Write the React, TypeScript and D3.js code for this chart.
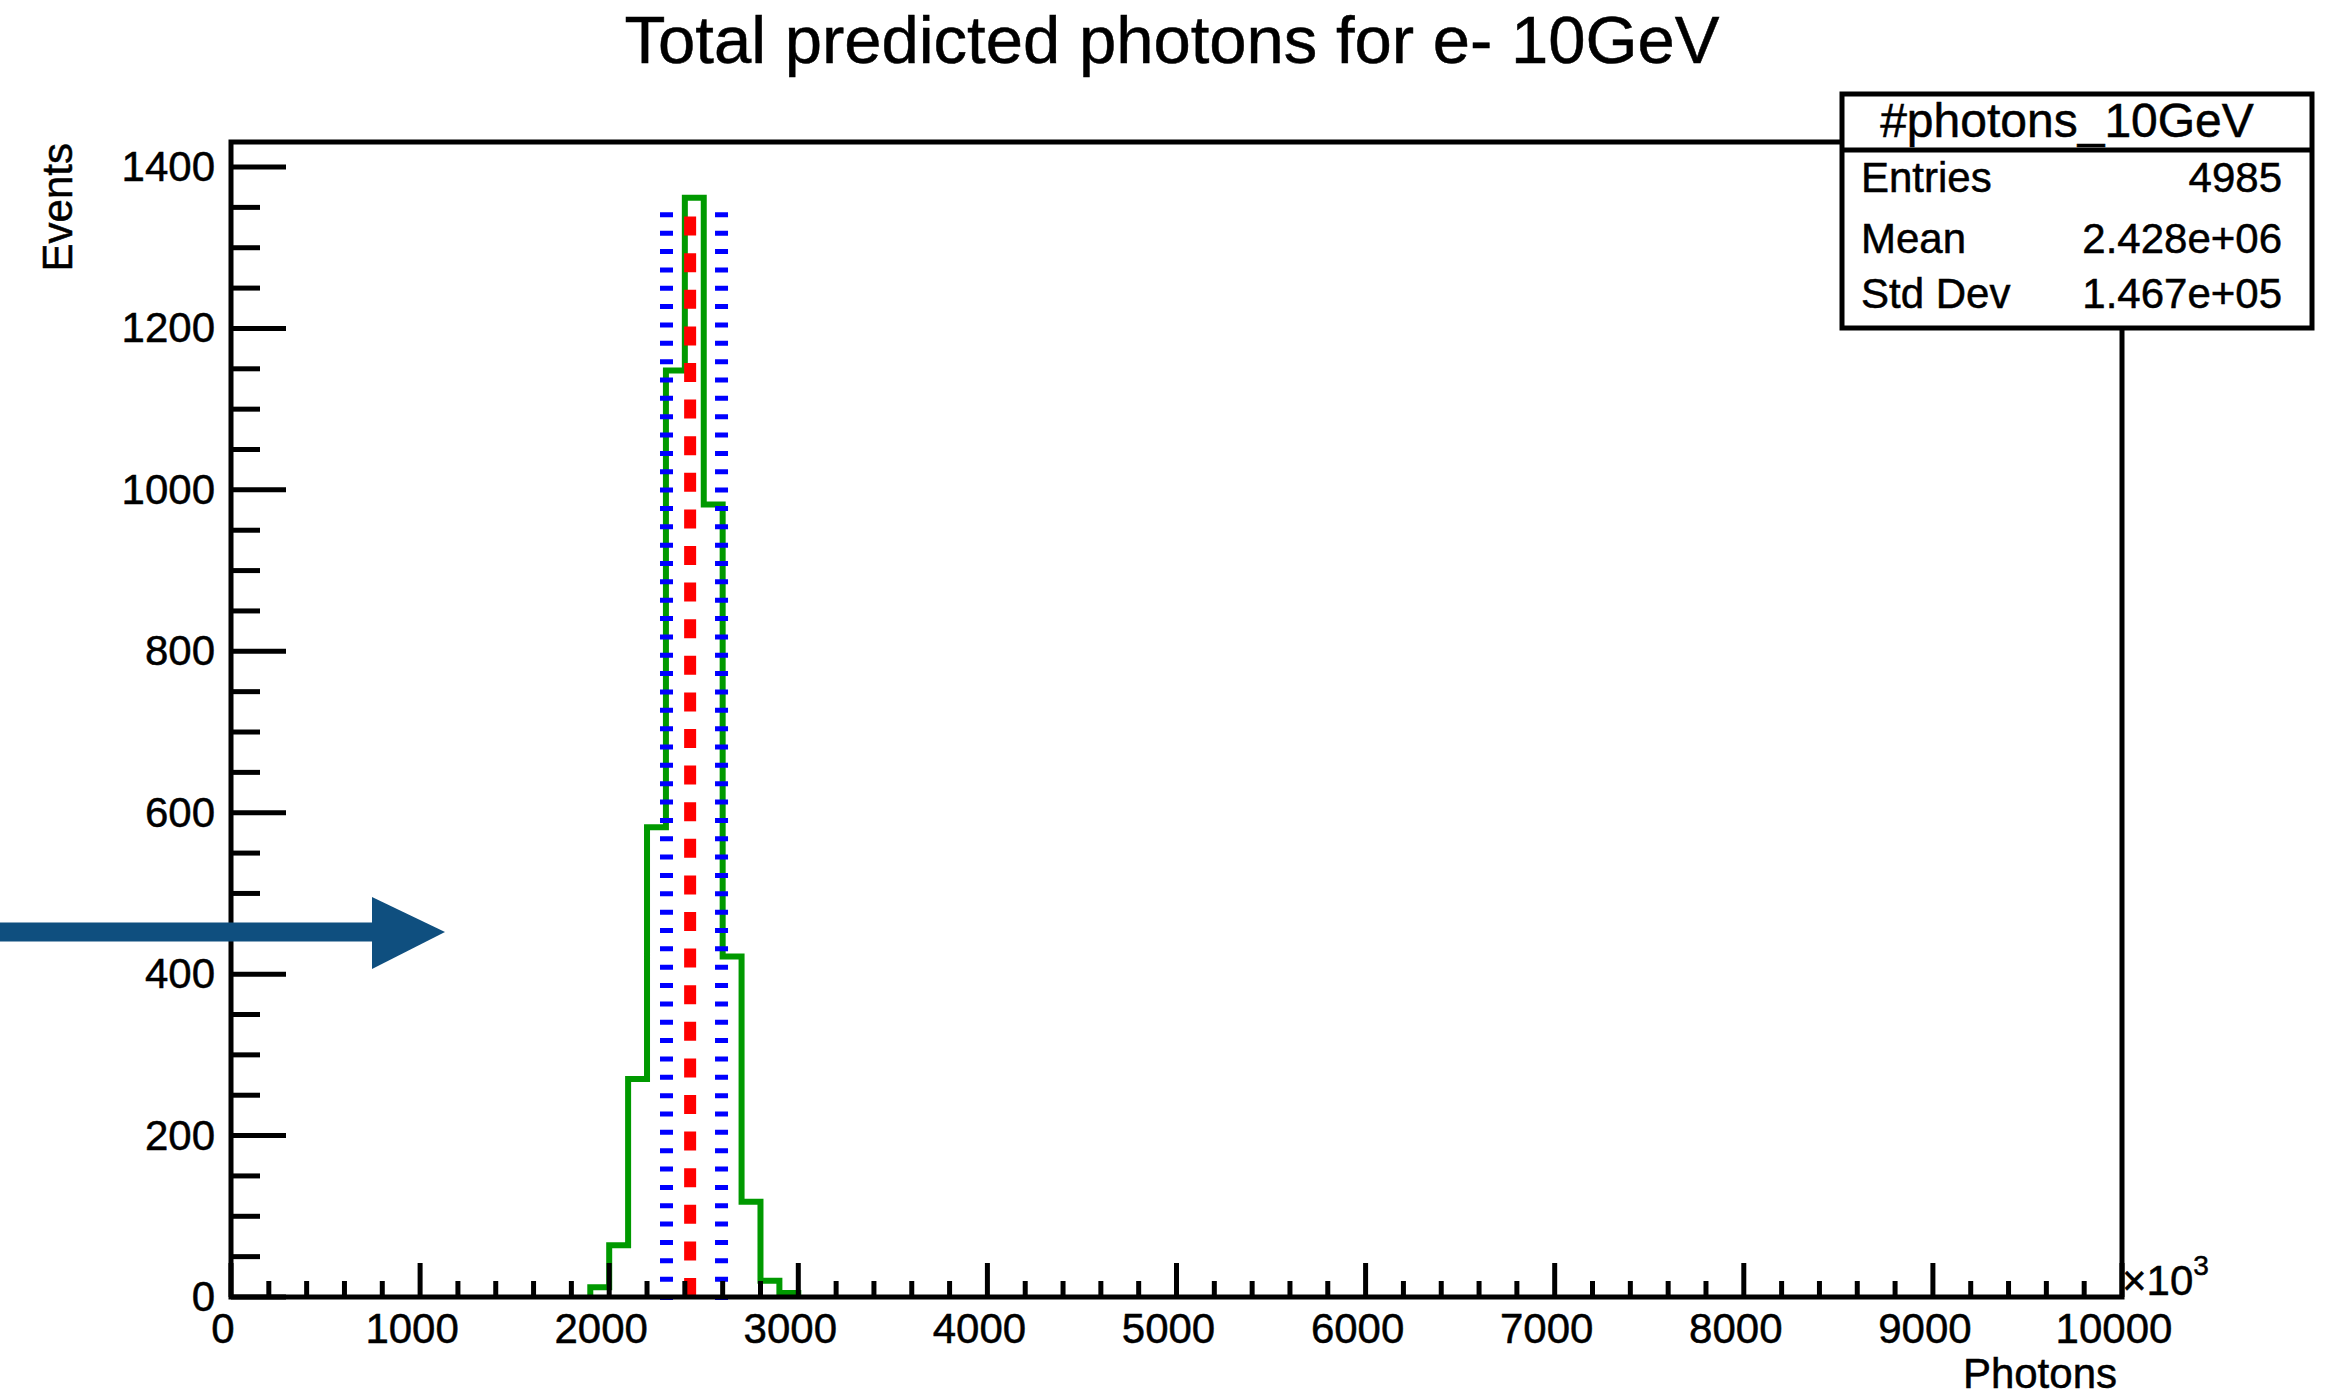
import React from "react";
import * as d3 from "d3";

// ---- data ----
const binEdges = [1900, 2000, 2100, 2200, 2300, 2400, 2500, 2600, 2700, 2800, 2900, 3000];
const binCounts = [12, 64, 270, 582, 1148, 1362, 982, 422, 118, 20, 5];
const meanValue = 2428;
const bandLow = 2303;
const bandHigh = 2594;
const markerTop = 1345;

const xMajorTicks = [0, 1000, 2000, 3000, 4000, 5000, 6000, 7000, 8000, 9000, 10000];
const xTickLabels = ["0", "1000", "2000", "3000", "4000", "5000", "6000", "7000", "8000", "9000", "10000"];
const yMajorTicks = [0, 200, 400, 600, 800, 1000, 1200, 1400];
const yTickLabels = ["0", "200", "400", "600", "800", "1000", "1200", "1400"];

const titleText = "Total predicted photons for e- 10GeV";
const xAxisTitle = "Photons";
const yAxisTitle = "Events";
const statsName = "#photons_10GeV";
const statsLabels = ["Entries", "Mean", "Std Dev"];
const statsValues = ["4985", "2.428e+06", "1.467e+05"];

// ---- layout ----
const W = 2341;
const H = 1398;
const frame = { left: 231, right: 2122, top: 142, bottom: 1297 };
const FONT = "'Liberation Sans', Arial, Helvetica, sans-serif";
const TXT = { fill: "#000", stroke: "#000", strokeWidth: 0.5 };

export default function App() {
  const x = d3.scaleLinear().domain([0, 10000]).range([frame.left, frame.right]);
  const y = d3.scaleLinear().domain([0, 1431]).range([frame.bottom, frame.top]);

  const xMinor = d3.range(0, 10001, 200).filter((v) => v % 1000 !== 0);
  const yMinor = d3.range(0, 1431, 50).filter((v) => v % 200 !== 0);

  const pts: [number, number][] = [[binEdges[0], 0]];
  binCounts.forEach((c, i) => {
    pts.push([binEdges[i], c]);
    pts.push([binEdges[i + 1], c]);
  });
  pts.push([binEdges[binEdges.length - 1], 0]);
  const histPath = d3.line<[number, number]>().x((d) => x(d[0])).y((d) => y(d[1]))(pts) || "";

  const stats = { x: 1842, y: 94, w: 470, h: 234, div: 150 };
  const rowY = [192, 253, 308];

  return (
    <svg
      width={W}
      height={H}
      style={{ position: "absolute", left: 0, top: 0, background: "#fff" }}
      fontFamily={FONT}
    >
      <rect x={0} y={0} width={W} height={H} fill="#fff" />
      {/* title */}
      <text x={1172} y={63} fontSize={67} textAnchor="middle" {...TXT}>
        {titleText}
      </text>

      {/* histogram */}
      <path d={histPath} fill="none" stroke="#009900" strokeWidth={6} strokeLinejoin="miter" />

      {/* mean and band lines */}
      <line
        x1={x(bandLow)} x2={x(bandLow)} y1={y(0) + 3} y2={y(markerTop)}
        stroke="#0000ff" strokeWidth={13} strokeDasharray="5 13.35"
      />
      <line
        x1={x(bandHigh)} x2={x(bandHigh)} y1={y(0) + 3} y2={y(markerTop)}
        stroke="#0000ff" strokeWidth={13} strokeDasharray="5 13.35"
      />
      <line
        x1={x(meanValue)} x2={x(meanValue)} y1={y(0)} y2={y(markerTop)}
        stroke="#ff0000" strokeWidth={12} strokeDasharray="19 17.6"
      />

      {/* frame */}
      <rect
        x={frame.left} y={frame.top}
        width={frame.right - frame.left} height={frame.bottom - frame.top}
        fill="none" stroke="#000" strokeWidth={5}
      />

      {/* x axis ticks */}
      {xMajorTicks.map((v) => (
        <line key={"xM" + v} x1={x(v)} x2={x(v)} y1={y(0)} y2={y(0) - 34} stroke="#000" strokeWidth={5} />
      ))}
      {xMinor.map((v) => (
        <line key={"xm" + v} x1={x(v)} x2={x(v)} y1={y(0)} y2={y(0) - 16} stroke="#000" strokeWidth={5} />
      ))}
      {xMajorTicks.map((v, i) => (
        <text key={"xl" + v} x={x(v) - 8} y={1343} fontSize={42} textAnchor="middle" {...TXT}>
          {xTickLabels[i]}
        </text>
      ))}
      <text x={2122} y={1295} fontSize={42} {...TXT}>
        ×10
        <tspan fontSize={28} dy={-20}>3</tspan>
      </text>
      <text x={2117} y={1388} fontSize={42} textAnchor="end" {...TXT}>
        {xAxisTitle}
      </text>

      {/* y axis ticks */}
      {yMajorTicks.map((v) => (
        <line key={"yM" + v} x1={x(0)} x2={x(0) + 55} y1={y(v)} y2={y(v)} stroke="#000" strokeWidth={5} />
      ))}
      {yMinor.map((v) => (
        <line key={"ym" + v} x1={x(0)} x2={x(0) + 29} y1={y(v)} y2={y(v)} stroke="#000" strokeWidth={5} />
      ))}
      {yMajorTicks.map((v, i) => (
        <text key={"yl" + v} x={215} y={y(v) + 14} fontSize={42} textAnchor="end" {...TXT}>
          {yTickLabels[i]}
        </text>
      ))}
      <text transform="translate(72,143) rotate(-90)" fontSize={42} textAnchor="end" {...TXT}>
        {yAxisTitle}
      </text>

      {/* stats box */}
      <rect x={stats.x} y={stats.y} width={stats.w} height={stats.h} fill="#fff" stroke="#000" strokeWidth={5} />
      <line x1={stats.x} x2={stats.x + stats.w} y1={stats.div} y2={stats.div} stroke="#000" strokeWidth={5} />
      <text x={2067} y={137} fontSize={48} textAnchor="middle" {...TXT}>
        {statsName}
      </text>
      {statsLabels.map((lab, i) => (
        <g key={lab}>
          <text x={1861} y={rowY[i]} fontSize={42} {...TXT}>
            {lab}
          </text>
          <text x={2282} y={rowY[i]} fontSize={42} textAnchor="end" {...TXT}>
            {statsValues[i]}
          </text>
        </g>
      ))}

      {/* annotation arrow */}
      <line x1={0} x2={375} y1={932} y2={932} stroke="#0f4f7f" strokeWidth={19} />
      <path d="M372,897 L445,932 L372,969 Z" fill="#0f4f7f" />
    </svg>
  );
}
